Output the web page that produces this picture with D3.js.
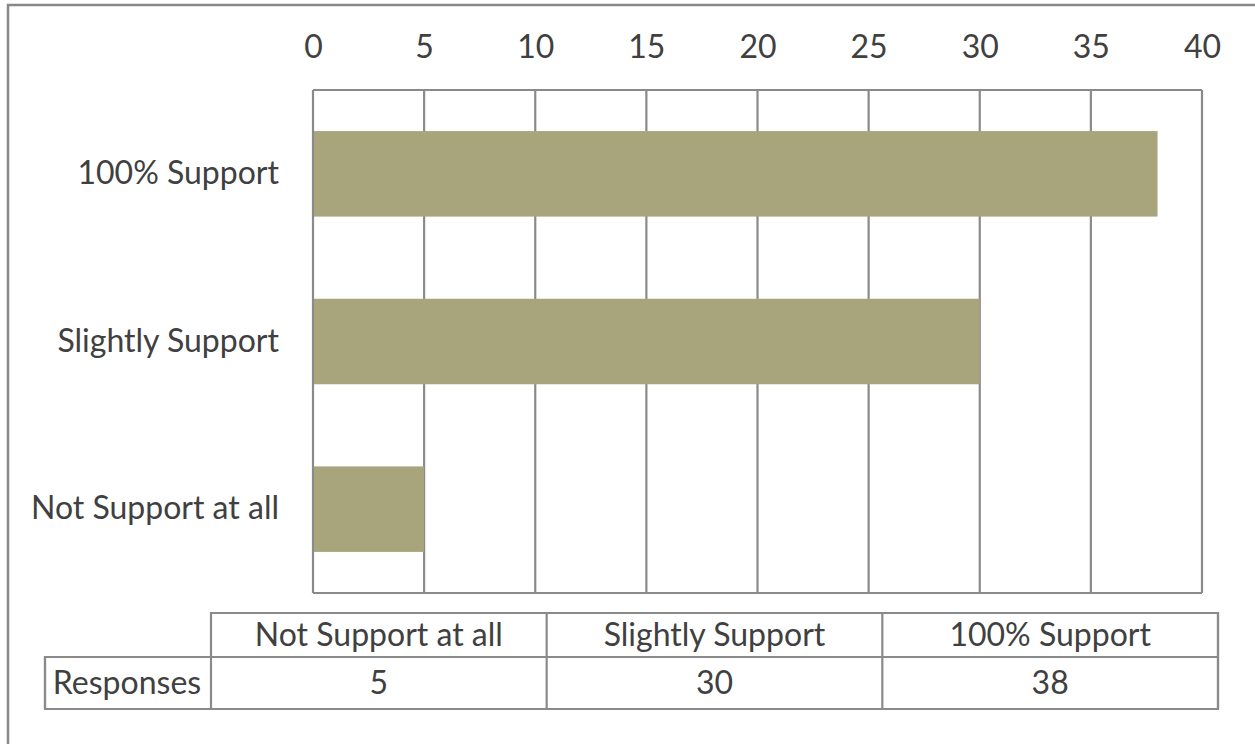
<!DOCTYPE html>
<html><head><meta charset="utf-8">
<script src="https://cdn.jsdelivr.net/npm/d3@7"></script>
<style>body{margin:0;background:#fff;}svg{display:block;}text{font-family:Lato,"Open Sans",sans-serif;fill:#404040;}</style>
</head><body>
<script>
const categories = ["Not Support at all", "Slightly Support", "100% Support"];
const responses = [5, 30, 38];
const tickValues = [0, 5, 10, 15, 20, 25, 30, 35, 40];
const rowLabel = "Responses";

(function () {
const W = 1255, H = 744, FS = "32px";
const svg = d3.select("body").append("svg").attr("width", W).attr("height", H);

// outer frame
svg.append("rect").attr("x", 8).attr("y", 5).attr("width", W + 10).attr("height", H + 10)
  .attr("fill", "none").attr("stroke", "#888").attr("stroke-width", 2.5);

const pL = 313, pR = 1202, pT = 90, pB = 593;
const x = d3.scaleLinear().domain([0, 40]).range([pL, pR]);
const y = d3.scaleBand().domain(categories.slice().reverse()).range([pT, pB]).paddingInner(0.49).paddingOuter(0.245);

// gridlines
svg.append("g").selectAll("line").data(tickValues).join("line")
  .attr("x1", d => x(d)).attr("x2", d => x(d)).attr("y1", pT).attr("y2", pB)
  .attr("stroke", "#8a8a8a").attr("stroke-width", 2.2);
svg.append("line").attr("x1", pL).attr("x2", pR).attr("y1", pT).attr("y2", pT).attr("stroke", "#8a8a8a").attr("stroke-width", 2.2);
svg.append("line").attr("x1", pL).attr("x2", pR).attr("y1", pB).attr("y2", pB).attr("stroke", "#8a8a8a").attr("stroke-width", 2.2);

// bars
svg.append("g").selectAll("rect").data(categories).join("rect")
  .attr("x", x(0) + 1).attr("y", d => y(d))
  .attr("width", (d, i) => x(responses[i]) - x(0) - 1).attr("height", y.bandwidth())
  .attr("fill", "#a8a57d");

// top axis
const ax = svg.append("g").attr("transform", `translate(0,${pT - 43})`)
  .call(d3.axisTop(x).tickValues(tickValues).tickSize(0).tickPadding(0));
ax.select(".domain").remove();
ax.selectAll("text").style("font-size", FS).attr("fill", "#404040").attr("dy", "0.35em");

// category labels
const ay = svg.append("g").attr("transform", `translate(${pL - 34},0)`)
  .call(d3.axisLeft(y).tickSize(0).tickPadding(0));
ay.select(".domain").remove();
ay.selectAll("text").style("font-size", FS).attr("fill", "#404040");

// data table
const tx = d3.scaleBand().domain(categories).range([211, 1218]);
const r1 = 613, r2 = 657, r3 = 709, lx = 45;
const g = svg.append("g").attr("stroke", "#8a8a8a").attr("stroke-width", 2.2).attr("fill", "none");
g.append("path").attr("d", `M211,${r3}V${r1}H1218V${r3}H${lx}V${r2}H1218`);
categories.forEach(c => {
  g.append("line").attr("x1", tx(c) + tx.bandwidth()).attr("x2", tx(c) + tx.bandwidth()).attr("y1", r1).attr("y2", r3);
});
g.append("line").attr("x1", lx).attr("x2", lx).attr("y1", r2).attr("y2", r3);

const tt = svg.append("g").style("font-size", FS);
tt.selectAll("text.h").data(categories).join("text").attr("class", "h")
  .attr("x", d => tx(d) + tx.bandwidth() / 2).attr("y", (r1 + r2) / 2).attr("dy", "0.35em")
  .attr("text-anchor", "middle").text(d => d);
tt.selectAll("text.v").data(responses).join("text").attr("class", "v")
  .attr("x", (d, i) => tx(categories[i]) + tx.bandwidth() / 2).attr("y", (r2 + r3) / 2).attr("dy", "0.35em")
  .attr("text-anchor", "middle").text(d => d);
tt.append("text").attr("x", 127).attr("y", (r2 + r3) / 2).attr("dy", "0.35em").attr("text-anchor", "middle").text(rowLabel);
})();
</script>
</body></html>
